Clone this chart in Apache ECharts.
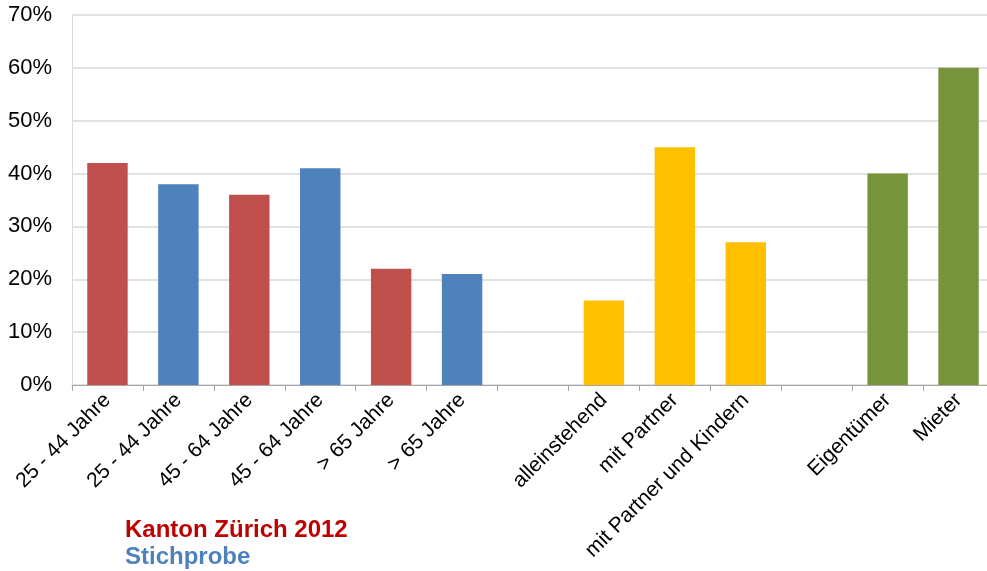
<!DOCTYPE html>
<html>
<head>
<meta charset="utf-8">
<script src="https://cdn.jsdelivr.net/npm/echarts@6/dist/echarts.min.js"></script>
<style>
  html, body { margin: 0; padding: 0; background: #fff; overflow: hidden; }
  #main { width: 994px; height: 571px; }
</style>
</head>
<body>
<div id="main"></div>
<script>
// Kategorien (leere Einträge = Lücken zwischen Gruppen)
const categories = [
  "25 - 44 Jahre", "25 - 44 Jahre", "45 - 64 Jahre", "45 - 64 Jahre",
  "> 65 Jahre", "> 65 Jahre", "",
  "alleinstehend", "mit Partner", "mit Partner und Kindern", "",
  "Eigentümer", "Mieter"
];
const values = [42, 38, 36, 41, 22, 21, null, 16, 45, 27, null, 40, 60];
const barColors = [
  "#C0504D", "#4F81BD", "#C0504D", "#4F81BD", "#C0504D", "#4F81BD", "#fff",
  "#FFC000", "#FFC000", "#FFC000", "#fff", "#77933C", "#77933C"
];
const yTicks = [0, 10, 20, 30, 40, 50, 60, 70];

const chart = echarts.init(document.getElementById("main"));

const option = {
  animation: false,
  grid: { left: 72, right: 0, top: 15, bottom: 186, containLabel: false },
  title: [
    {
      text: "Kanton Zürich 2012",
      left: 120, top: 513,
      textStyle: { color: "#C00000", fontSize: 24, fontWeight: "bold", fontFamily: "Liberation Sans" }
    },
    {
      text: "Stichprobe",
      left: 120, top: 540,
      textStyle: { color: "#4F81BD", fontSize: 24, fontWeight: "bold", fontFamily: "Liberation Sans" }
    }
  ],
  xAxis: {
    type: "category",
    data: categories,
    axisLine: { lineStyle: { color: "#A6A6A6", width: 1 } },
    axisTick: { show: true, alignWithLabel: false, length: 6, lineStyle: { color: "#A6A6A6" } },
    axisLabel: {
      interval: 0,
      rotate: 45,
      margin: 12,
      color: "#000",
      fontSize: 21,
      fontFamily: "Liberation Sans"
    }
  },
  yAxis: {
    type: "value",
    min: yTicks[0],
    max: yTicks[yTicks.length - 1],
    interval: 10,
    axisLine: { show: true, lineStyle: { color: "#D9D9D9" } },
    axisTick: { show: false },
    splitLine: { lineStyle: { color: "#D9D9D9", width: 1.5 } },
    axisLabel: {
      formatter: "{value}%",
      margin: 20,
      color: "#000",
      fontSize: 22,
      fontFamily: "Liberation Sans"
    }
  },
  series: [
    {
      type: "bar",
      barWidth: "57%",
      data: values.map((v, i) => ({
        value: v,
        itemStyle: { color: barColors[i] }
      }))
    }
  ]
};

chart.setOption(option);
</script>
</body>
</html>
